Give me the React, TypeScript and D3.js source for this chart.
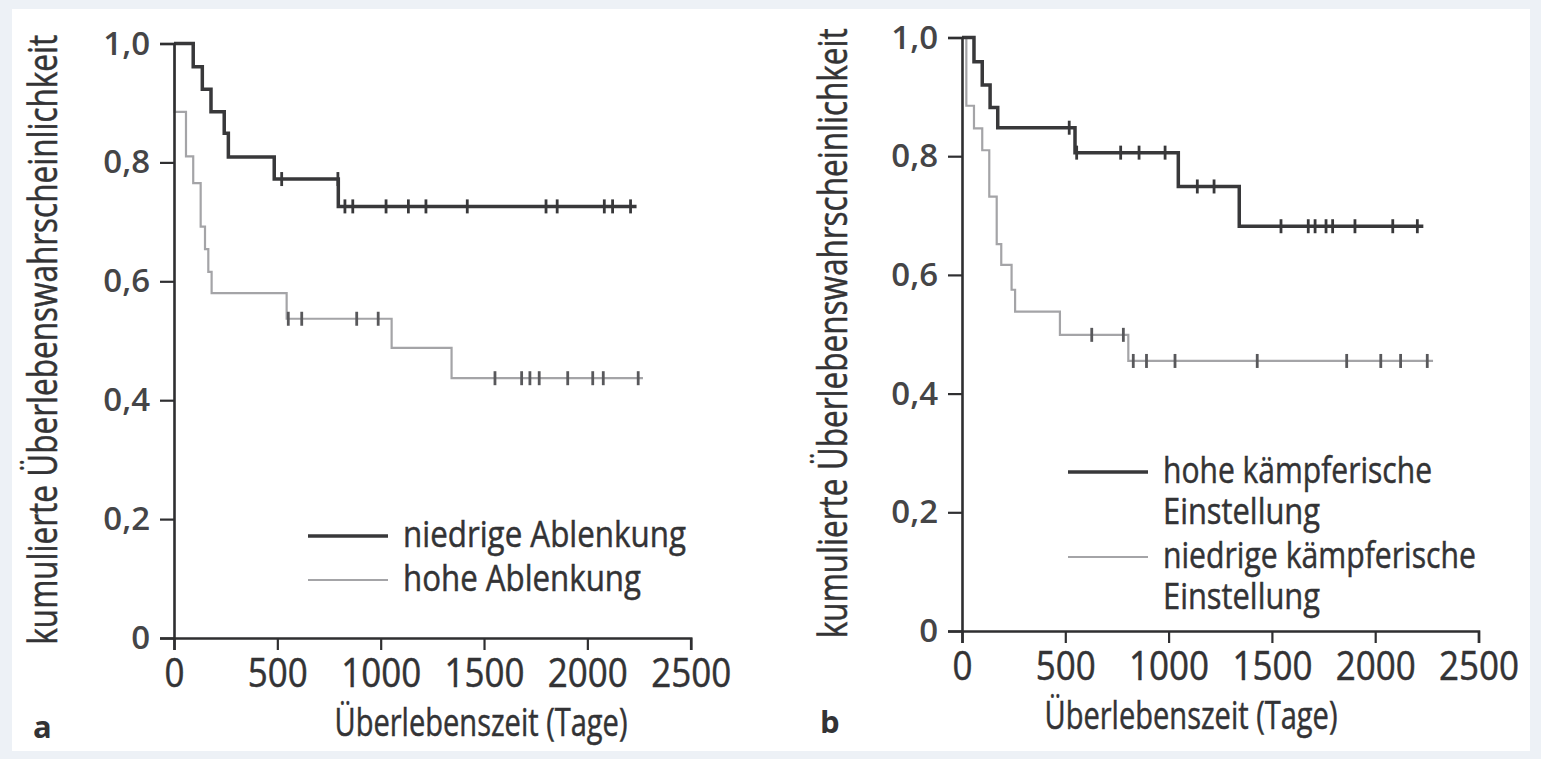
import React, { useEffect, useRef } from "react";
import * as d3 from "d3";

// axis ticks
const xTicks = [0, 500, 1000, 1500, 2000, 2500];
const yTicks = [0, 0.2, 0.4, 0.6, 0.8, 1.0];
const yTickLabels = ["0", "0,2", "0,4", "0,6", "0,8", "1,0"];

// panel a, niedrige Ablenkung (dark)
const aLowDays = [0, 93, 137, 179, 243, 263, 485, 795];
const aLowSurv = [1.0, 0.961, 0.923, 0.885, 0.849, 0.809, 0.772, 0.726];
const aLowEnd = 2238;
const aLowCensored = [521, 793, 827, 865, 1026, 1134, 1219, 1419, 1800, 1854, 2082, 2122, 2209];

// panel a, hohe Ablenkung (light)
const aHighDays = [0, 3, 58, 93, 129, 150, 166, 182, 545, 1053, 1343];
const aHighSurv = [1.0, 0.885, 0.81, 0.765, 0.692, 0.654, 0.616, 0.58, 0.537, 0.488, 0.437];
const aHighEnd = 2269;
const aHighCensored = [553, 618, 884, 988, 1553, 1682, 1722, 1767, 1905, 2026, 2077, 2246];

// panel b, hohe kämpferische Einstellung (dark)
const bHighDays = [0, 58, 98, 136, 173, 547, 1047, 1342];
const bHighSurv = [1.0, 0.959, 0.92, 0.882, 0.848, 0.806, 0.749, 0.682];
const bHighEnd = 2233;
const bHighCensored = [519, 555, 768, 857, 983, 1139, 1220, 1544, 1676, 1709, 1762, 1794, 1902, 2085, 2204];

// panel b, niedrige kämpferische Einstellung (light)
const bLowDays = [0, 21, 58, 98, 132, 168, 190, 240, 257, 474, 805];
const bLowSurv = [1.0, 0.885, 0.847, 0.81, 0.732, 0.652, 0.617, 0.575, 0.538, 0.499, 0.455];
const bLowEnd = 2280;
const bLowCensored = [628, 781, 829, 893, 1031, 1429, 1862, 2027, 2123, 2252];

const xTitle = "Überlebenszeit (Tage)";
const yTitle = "kumulierte Überlebenswahrscheinlichkeit";

const DARK = "#38383a";
const LIGHT = "#a4a4a7";
const AXIS = "#2f2f31";
const TEXT = "#333335";
const FONT = "'Open Sans', 'Noto Sans', sans-serif";

type Series = {
  days: number[];
  surv: number[];
  end: number;
  censored: number[];
  color: string;
  width: number;
  markColor: string;
};

type LegendItem = { lines: string[]; widths: number[]; color: string; width: number; y: number };

type Panel = {
  letter: string;
  x0: number;
  x1: number;
  yTop: number;
  yBottom: number;
  series: Series[];
  legend: LegendItem[];
  legendX: number;
  letterX: number;
  letterY: number;
  titleX: number;
  yTitleX: number;
};

const panels: Panel[] = [
  {
    letter: "a",
    x0: 174,
    x1: 690.7,
    yTop: 43.5,
    yBottom: 638,
    series: [
      { days: aHighDays, surv: aHighSurv, end: aHighEnd, censored: aHighCensored, color: LIGHT, width: 2.2, markColor: "#58585b" },
      { days: aLowDays, surv: aLowSurv, end: aLowEnd, censored: aLowCensored, color: DARK, width: 3.5, markColor: DARK },
    ],
    legend: [
      { lines: ["niedrige Ablenkung"], widths: [283], color: DARK, width: 3.5, y: 536 },
      { lines: ["hohe Ablenkung"], widths: [238], color: LIGHT, width: 2.2, y: 580 },
    ],
    legendX: 308,
    letterX: 33,
    letterY: 738,
    titleX: 481,
    yTitleX: 57,
  },
  {
    letter: "b",
    x0: 962,
    x1: 1478.5,
    yTop: 37.5,
    yBottom: 631,
    series: [
      { days: bLowDays, surv: bLowSurv, end: bLowEnd, censored: bLowCensored, color: LIGHT, width: 2.2, markColor: "#58585b" },
      { days: bHighDays, surv: bHighSurv, end: bHighEnd, censored: bHighCensored, color: DARK, width: 3.5, markColor: DARK },
    ],
    legend: [
      { lines: ["hohe kämpferische", "Einstellung"], widths: [269, 157], color: DARK, width: 3.5, y: 472 },
      { lines: ["niedrige kämpferische", "Einstellung"], widths: [313, 157], color: LIGHT, width: 2.2, y: 557 },
    ],
    legendX: 1068,
    letterX: 820,
    letterY: 733,
    titleX: 1191,
    yTitleX: 847,
  },
];

// narrow text: the original face is condensed, so glyphs are squeezed to the measured width
function narrowText(
  g: d3.Selection<SVGGElement, unknown, null, undefined>,
  txt: string,
  x: number,
  y: number,
  size: number,
  length: number,
  anchor = "start",
  rotate = false
) {
  const t = g
    .append("text")
    .attr("font-family", FONT)
    .attr("font-size", size)
    .attr("fill", TEXT)
    .attr("stroke", TEXT)
    .attr("stroke-width", 0.5)
    .attr("text-anchor", anchor)
    .attr("textLength", length)
    .attr("lengthAdjust", "spacingAndGlyphs")
    .text(txt);
  if (rotate) t.attr("transform", `translate(${x},${y}) rotate(-90)`);
  else t.attr("x", x).attr("y", y);
  return t;
}

export default function App() {
  const ref = useRef<SVGSVGElement | null>(null);

  useEffect(() => {
    const svg = d3.select(ref.current);
    svg.selectAll("*").remove();

    svg.append("rect").attr("width", 1541).attr("height", 759).attr("fill", "#edf1f6");
    svg.append("rect").attr("x", 12).attr("y", 9).attr("width", 1518).attr("height", 742).attr("fill", "#ffffff");

    panels.forEach((p) => {
      const x = d3.scaleLinear().domain([0, 2500]).range([p.x0, p.x1]);
      const y = d3.scaleLinear().domain([0, 1]).range([p.yBottom, p.yTop]);
      const g = svg.append("g") as d3.Selection<SVGGElement, unknown, null, undefined>;

      // curves
      const line = d3
        .line<[number, number]>()
        .x((d) => x(d[0]))
        .y((d) => y(d[1]))
        .curve(d3.curveStepAfter);

      p.series.forEach((s) => {
        const pts: [number, number][] = s.days.map((d, i) => [d, s.surv[i]]);
        pts.push([s.end, s.surv[s.surv.length - 1]]);
        g.append("path")
          .attr("d", line(pts))
          .attr("fill", "none")
          .attr("stroke", s.color)
          .attr("stroke-width", s.width);

        const survAt = (t: number) => {
          let v = s.surv[0];
          s.days.forEach((d, i) => {
            if (d <= t) v = s.surv[i];
          });
          return v;
        };
        g.selectAll(null)
          .data(s.censored)
          .enter()
          .append("line")
          .attr("x1", (d) => x(d))
          .attr("x2", (d) => x(d))
          .attr("y1", (d) => y(survAt(d)) - 7)
          .attr("y2", (d) => y(survAt(d)) + 7)
          .attr("stroke", s.markColor)
          .attr("stroke-width", 2.8);
      });

      // axes
      const yAxis = d3
        .axisLeft(y)
        .tickValues(yTicks)
        .tickSize(14)
        .tickPadding(10)
        .tickFormat((d, i) => yTickLabels[i]);
      const yAxisG = g.append("g").attr("transform", `translate(${p.x0},0)`).call(yAxis);

      const xAxis = d3
        .axisBottom(x)
        .tickValues(xTicks)
        .tickSize(12)
        .tickPadding(9)
        .tickFormat((d) => String(d));
      const xAxisG = g.append("g").attr("transform", `translate(0,${p.yBottom})`).call(xAxis);

      [yAxisG, xAxisG].forEach((ag) => {
        ag.select(".domain").attr("stroke", AXIS).attr("stroke-width", 2.6);
        ag.selectAll(".tick line").attr("stroke", AXIS).attr("stroke-width", 2.2);
      });
      yAxisG
        .selectAll(".tick text")
        .attr("font-family", FONT)
        .attr("font-size", 33)
        .attr("font-weight", 600)
        .attr("fill", "#454547");
      xAxisG
        .selectAll<SVGTextElement, number>(".tick text")
        .attr("font-family", FONT)
        .attr("font-size", 40)
        .attr("fill", TEXT)
        .attr("stroke", TEXT)
        .attr("stroke-width", 0.5)
        .attr("textLength", (d) => String(d).length * 20)
        .attr("lengthAdjust", "spacingAndGlyphs");

      // titles
      narrowText(g, xTitle, p.titleX, p.yBottom + 98, 38, 293, "middle");
      narrowText(g, yTitle, p.yTitleX, (p.yTop + p.yBottom) / 2 - 1, 40, 610, "middle", true);

      g.append("text")
        .attr("x", p.letterX)
        .attr("y", p.letterY)
        .attr("font-family", FONT)
        .attr("font-weight", 700)
        .attr("font-size", 31)
        .attr("fill", TEXT)
        .text(p.letter);

      // legend
      p.legend.forEach((l) => {
        g.append("line")
          .attr("x1", p.legendX)
          .attr("x2", p.legendX + 80)
          .attr("y1", l.y)
          .attr("y2", l.y)
          .attr("stroke", l.color)
          .attr("stroke-width", l.width);
        l.lines.forEach((t, i) => {
          narrowText(g, t, p.legendX + 95, l.y + 11 + i * 41, 37, l.widths[i]);
        });
      });
    });
  }, []);

  return (
    <svg
      ref={ref}
      width={1541}
      height={759}
      style={{ position: "absolute", left: 0, top: 0 }}
    />
  );
}
